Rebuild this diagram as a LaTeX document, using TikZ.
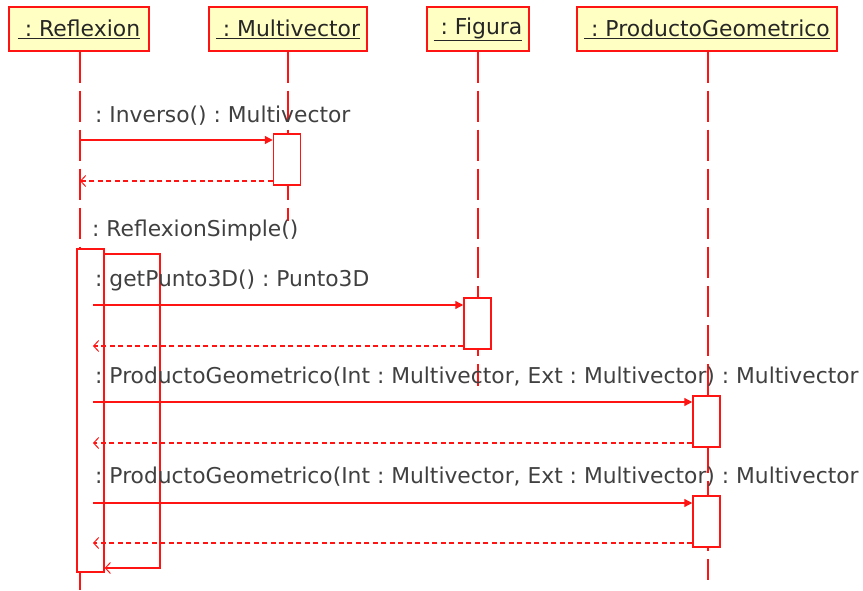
\documentclass[tikz,border=0pt]{standalone}
\usepackage{fontspec}
\setmainfont{DejaVu Sans}
\usetikzlibrary{arrows.meta}
\frenchspacing
\definecolor{umlred}{RGB}{255,20,20}
\definecolor{umlfill}{RGB}{255,255,196}
\definecolor{umltext}{RGB}{64,64,64}
\tikzset{
  lifehead/.style={draw=umlred, line width=1.5pt, fill=umlfill, minimum height=44pt,
    inner sep=0pt, text=black!85, font=\fontsize{21.9}{23}\selectfont},
  lifeline/.style={draw=umlred, line width=1.4pt, dash pattern=on 31pt off 8pt},
  actbox/.style={draw=umlred, line width=1.5pt, fill=white, minimum width=27pt, inner sep=0pt},
  callmsg/.style={draw=umlred, line width=1.3pt, -{Triangle[length=8pt,width=8pt]}},
  retmsg/.style={draw=umlred, line width=1.3pt, dash pattern=on 5pt off 3.5pt,
    -{Straight Barb[length=5pt,width=11pt,line width=1pt]}},
  selfmsg/.style={draw=umlred, line width=1.3pt, -{Straight Barb[length=5pt,width=11pt,line width=1pt]}},
  msglabel/.style={anchor=west, inner sep=0pt, text=umltext, font=\fontsize{21.8}{23}\selectfont},
}
\begin{document}
\begin{tikzpicture}[x=1pt, y=-1pt]
\useasboundingbox (0,0) rectangle (863,591);

% object headers
\node[lifehead, minimum width=140pt] (ref) at (79,29) {\underline{\ : Reflexion}};
\node[lifehead, minimum width=158pt] (mv) at (288,29) {\underline{\ : Multivector}};
\node[lifehead, minimum width=102pt] (fig) at (478,29) {\underline{\ : Figura}};
\node[lifehead, minimum width=260pt] (pg) at (707,29) {\underline{\ : ProductoGeometrico}};

% lifelines
\coordinate (refend) at (80,591);
\coordinate (mvend) at (288,221);
\coordinate (figend) at (478,386);
\coordinate (pgend) at (708,580);
\draw[lifeline] (ref.south -| refend) -- (refend);
\draw[lifeline] (mv.south -| mvend) -- (mvend);
\draw[lifeline] (fig.south -| figend) -- (figend);
\draw[lifeline] (pg.south -| pgend) -- (pgend);

% activations
\node[actbox, minimum height=51pt] (mvact) at (287,159.5) {};
\node[actbox, minimum height=323pt] (refact) at (90.5,410.5) {};
\node[actbox, minimum height=51pt] (figact) at (477.5,323.5) {};
\node[actbox, minimum height=51pt] (pgact1) at (706.5,421.5) {};
\node[actbox, minimum height=51pt] (pgact2) at (706.5,521.5) {};

% Inverso
\node[msglabel] (l1) at (95,116) {: Inverso() : Multivector};
\draw[callmsg] (refend |- 0,140) -- (mvact.west |- 0,140);
\draw[retmsg] (mvact.west |- 0,181) -- (refend |- 0,181);

% ReflexionSimple (self call)
\node[msglabel] (l2) at (92,230) {: ReflexionSimple()};
\coordinate (s1) at (160,254);
\coordinate (s2) at (160,568);
\draw[selfmsg] (refact.east |- s1) -- (s1) -- (s2) -- (refact.east |- s2);

% getPunto3D
\coordinate (src) at (93,0);
\node[msglabel] (l3) at (95,280) {: getPunto3D() : Punto3D};
\draw[callmsg] (src |- 0,305) -- (figact.west |- 0,305);
\draw[retmsg] (figact.west |- 0,346) -- (src |- 0,346);

% ProductoGeometrico (1)
\node[msglabel] (l4) at (95,377) {: ProductoGeometrico(Int : Multivector, Ext : Multivector) : Multivector};
\draw[callmsg] (src |- 0,402) -- (pgact1.west |- 0,402);
\draw[retmsg] (pgact1.west |- 0,443) -- (src |- 0,443);

% ProductoGeometrico (2)
\node[msglabel] (l5) at (95,477) {: ProductoGeometrico(Int : Multivector, Ext : Multivector) : Multivector};
\draw[callmsg] (src |- 0,503) -- (pgact2.west |- 0,503);
\draw[retmsg] (pgact2.west |- 0,543) -- (src |- 0,543);
\end{tikzpicture}
\end{document}
